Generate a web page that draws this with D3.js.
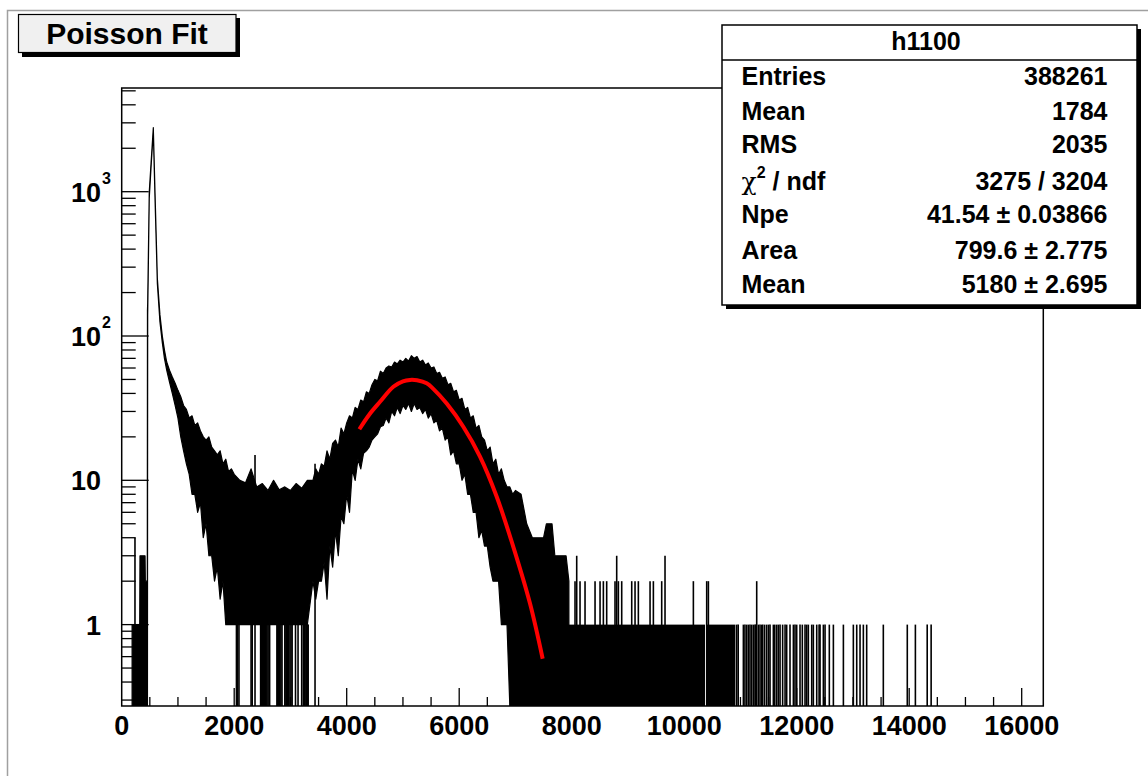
<!DOCTYPE html>
<html>
<head>
<meta charset="utf-8">
<script src="https://d3js.org/d3.v7.min.js"></script>
<style>
body { margin: 0; background: #fff; }
text { font-family: "Liberation Sans", Arial, sans-serif; font-weight: bold; fill: #000; }
</style>
</head>
<body>
<div id="chart"></div>
<script>
// ---- data ----
// main band of the histogram: bin x, upper and lower envelope of the counts (0 = empty bins)
var envX  = [185, 320, 325, 415, 420, 455, 458, 462, 490, 527, 562, 592, 634, 680, 722, 760, 800, 850,
             900, 950, 1000, 1050, 1100, 1150, 1200, 1250, 1300, 1350, 1400, 1450, 1500, 1550, 1600, 1650,
             1700, 1750, 1800, 1850, 1900, 1950, 2000,
             2100, 2200, 2300, 2400, 2500, 2600, 2700, 2800, 2900, 3000, 3100, 3200, 3300,
             3400, 3450, 3500, 3550, 3600, 3650, 3700, 3750, 3800, 3850, 3900, 3950, 4000, 4050, 4100, 4150,
             4200, 4250, 4300, 4350, 4400, 4450, 4500, 4550, 4600, 4650, 4700, 4750, 4800, 4850, 4900, 4950,
             5000, 5050, 5100, 5150, 5200, 5250, 5300, 5350, 5400, 5450, 5500, 5550, 5600, 5650, 5700, 5750,
             5800, 5850, 5900, 5950, 6000, 6050, 6100, 6150, 6200, 6250, 6300, 6350, 6400, 6450, 6500, 6550,
             6600, 6650, 6700, 6750, 6800, 6850, 6900, 6950, 7000, 7100, 7200, 7300,
             7400, 7500, 7550, 7650, 7700, 7900, 7950];
var envHi = [1, 1, 3, 3, 2, 2, 150, 170, 1000, 1700, 2776, 1000, 250, 140, 100, 80, 66, 58,
             52, 47, 42, 38, 33, 31, 27, 28, 24, 25, 22, 20, 19, 20, 17, 16,
             15, 16, 13, 14, 11.5, 12, 11,
             10, 9.6, 12, 9, 9.5, 8.5, 10, 8.6, 9, 8.5, 9.5, 8.8, 10,
             10, 12, 11, 13, 12.5, 16, 14, 18, 19, 17, 23, 21, 25, 28, 27, 32,
             31, 36, 35, 41, 40, 46, 50, 49, 57, 55, 60, 62, 61, 66, 64, 68,
             66, 70, 67, 73, 70, 72, 66, 68, 63, 65, 60, 61, 55, 56, 51, 52,
             46, 47, 41, 42, 36, 37, 31, 32, 27, 28, 23, 24, 20, 19, 16, 17,
             13, 14, 11, 12, 10, 9, 9, 8, 8.5, 8, 5, 4,
             4, 4, 5, 5, 3, 3, 2];
var envLo = [0, 0, 0, 0, 0, 0, 0, 140, 900, 1600, 2600, 900, 230, 125, 90, 70, 58, 48,
             40, 33, 27, 20, 16, 13, 11, 8, 8, 6, 7, 4, 5, 3, 3, 2,
             2.5, 1.5, 2, 1, 1, 1, 1,
             1, 1, 1, 1, 1, 1, 1, 1, 1, 1, 1, 1, 1,
             2, 1.5, 2, 2, 2.7, 1.5, 3.5, 2.5, 4.5, 3, 5.6, 5, 8, 6, 11.8, 10,
             14, 12, 15.4, 16, 17, 19, 20, 21, 23.5, 24, 27, 25, 30, 28, 32, 29,
             33, 31, 34, 30, 34, 31, 32, 29, 31, 27, 29, 25, 26, 22, 23, 19,
             20, 15, 16, 13, 13, 10, 11, 8, 8, 6, 6, 4, 4.5, 3.5, 3.5, 2.5,
             2, 2, 2, 1, 1, 1, 0, 0, 0, 0, 0, 0,
             0, 0, 0, 0, 0, 0, 0];

// stretches of the tail that are filled up to one entry per bin
var blockStart = [6900, 10395];
var blockEnd   = [10370, 10910];
var blockCount = [1, 1];

// single bins drawn as vertical lines (x, count)
var binX = [236, 2370, 3437,
  2040, 2060, 2085, 2300, 2320, 2470, 2480, 2490, 2500, 2510, 2520, 2540, 2560, 2580, 2600, 2620, 2630,
  2760, 2770, 2790, 2810, 2830, 2850, 2900, 2920, 2930, 2950, 2960, 2990, 3010, 3030, 3090, 3135,
  3200, 3230, 3250, 3260, 3280, 3290, 3305, 3315,
  8059, 8089, 8148, 8237, 8415, 8504, 8563, 8622, 8770, 8800, 8830, 8889, 9067, 9126, 9185, 9393,
  9452, 9600, 9659, 10163, 10400, 10430, 11289,
  10933, 10960, 11052, 11080, 11111, 11141, 11170, 11200, 11230, 11259, 11270, 11319, 11348, 11378, 11396,
  11430, 11467, 11500, 11526, 11585, 11610, 11644, 11674, 11704, 11750, 11793, 11822, 11881, 11941, 11970,
  12000, 12059, 12100, 12148, 12178, 12207, 12267, 12296, 12356, 12398, 12415, 12474, 12504, 12580,
  12652, 12830, 13007, 13067, 13126, 13185, 13244,
  13540, 13966, 14110, 14320, 14390];
var binN = [4, 15, 13,
  1, 1, 1, 1, 1, 1, 1, 1, 1, 1, 1, 1, 1, 1, 1, 1, 1,
  1, 1, 1, 1, 1, 1, 1, 1, 1, 1, 1, 1, 1, 1, 1, 1,
  1, 1, 1, 1, 1, 1, 1, 1,
  2, 3, 2, 2, 2, 2, 2, 2, 2, 3, 2, 2, 2, 2, 2, 2,
  2, 2, 3, 2, 2, 2, 2,
  1, 1, 1, 1, 1, 1, 1, 1, 1, 1, 1, 1, 1, 1, 1,
  1, 1, 1, 1, 1, 1, 1, 1, 1, 1, 1, 1, 1, 1, 1,
  1, 1, 1, 1, 1, 1, 1, 1, 1, 1, 1, 1, 1, 1,
  1, 1, 1, 1, 1, 1, 1,
  1, 1, 1, 1, 1];

// fitted Poisson curve
var fitX = [4225, 4400, 4592, 4829, 5000, 5125, 5250, 5422, 5540, 5778, 6073, 6370, 6667, 6962, 7259, 7484];
var fitY = [22.6, 28.5, 35, 44.5, 48.5, 49.6, 49.3, 47, 43, 34, 23.5, 14.6, 7.7, 3.46, 1.4, 0.58];

// axes
var xTicks = [0, 2000, 4000, 6000, 8000, 10000, 12000, 14000, 16000];
var yDecades = [1, 10, 100, 1000];
var yLabels = ["1", "10", "10", "10"];
var yExponents = ["", "", "2", "3"];

// boxes
var titleText = "Poisson Fit";
var statTitle = "h1100";
var statNames = ["Entries", "Mean", "RMS", "chi2", "Npe", "Area", "Mean"];
var statValues = ["388261", "1784", "2035", "3275 / 3204", "41.54 \u00b1 0.03866", "799.6 \u00b1 2.775", "5180 \u00b1 2.695"];

// ---- drawing ----
var W = 1148, H = 776;
var fx0 = 121.7, fx1 = 1043.3, fy0 = 88, fy1 = 706;

var svg = d3.select("#chart").append("svg")
    .attr("width", W)
    .attr("height", H);

svg.append("rect").attr("width", W).attr("height", H).attr("fill", "#fff");

// canvas border (only top and left show)
svg.append("path")
    .attr("d", "M7.5,776 L7.5,10.5 L1148,10.5")
    .attr("fill", "none")
    .attr("stroke", "#a0a0a0")
    .attr("stroke-width", 1.5);

var yMin = 0.2729;
var x = d3.scaleLinear().domain([0, 16384]).range([fx0, fx1]);
var y = d3.scaleLog().domain([yMin, 5231]).range([fy1, fy0]);

svg.append("clipPath").attr("id", "frameclip")
  .append("rect")
    .attr("x", fx0).attr("y", fy0)
    .attr("width", fx1 - fx0).attr("height", fy1 - fy0);

var plot = svg.append("g").attr("clip-path", "url(#frameclip)");

var env = envX.map(function(v, i) { return [v, envHi[i], envLo[i]]; });
var area = d3.area()
    .x(function(d) { return x(d[0]); })
    .y0(function(d) { return y(Math.max(d[2], yMin)); })
    .y1(function(d) { return y(d[1]); });

plot.append("path")
    .datum(env)
    .attr("d", area)
    .attr("fill", "#000")
    .attr("stroke", "#000")
    .attr("stroke-width", 1.2)
    .attr("stroke-linejoin", "round");

plot.selectAll(".block")
  .data(blockStart)
  .enter().append("rect")
    .attr("x", function(d) { return x(d); })
    .attr("width", function(d, i) { return x(blockEnd[i]) - x(d); })
    .attr("y", function(d, i) { return y(blockCount[i]); })
    .attr("height", function(d, i) { return fy1 - y(blockCount[i]); })
    .attr("fill", "#000");

plot.selectAll(".bin")
  .data(binX)
  .enter().append("line")
    .attr("x1", function(d) { return x(d); })
    .attr("x2", function(d) { return x(d); })
    .attr("y1", fy1)
    .attr("y2", function(d, i) { return y(binN[i]); })
    .attr("stroke", "#000")
    .attr("stroke-width", 1.6);

// fit
var fit = fitX.map(function(v, i) { return [v, fitY[i]]; });
plot.append("path")
    .datum(fit)
    .attr("d", d3.line()
        .x(function(d) { return x(d[0]); })
        .y(function(d) { return y(d[1]); })
        .curve(d3.curveCatmullRom))
    .attr("fill", "none")
    .attr("stroke", "#ff0000")
    .attr("stroke-width", 4);

// frame
svg.append("rect")
    .attr("x", fx0).attr("y", fy0)
    .attr("width", fx1 - fx0).attr("height", fy1 - fy0)
    .attr("fill", "none")
    .attr("stroke", "#000")
    .attr("stroke-width", 1.5);

// x ticks
var xMinor = d3.range(500, 16001, 500);
svg.selectAll(".xt")
  .data(xMinor)
  .enter().append("line")
    .attr("x1", function(d) { return x(d); })
    .attr("x2", function(d) { return x(d); })
    .attr("y1", fy1)
    .attr("y2", function(d) { return d % 2000 === 0 ? fy1 - 18 : fy1 - 9; })
    .attr("stroke", "#000")
    .attr("stroke-width", 1.3);

svg.selectAll(".xl")
  .data(xTicks)
  .enter().append("text")
    .attr("x", function(d) { return x(d); })
    .attr("y", 735)
    .attr("text-anchor", "middle")
    .style("font-size", "27px")
    .text(function(d) { return d; });

// y ticks
var yMinor = [];
[0.1, 1, 10, 100, 1000].forEach(function(dec) {
  for (var k = 2; k <= 9; k++) {
    var v = k * dec;
    if (v > yMin && v < 5231) yMinor.push(v);
  }
});
svg.selectAll(".ytm")
  .data(yMinor)
  .enter().append("line")
    .attr("x1", fx0).attr("x2", fx0 + 14)
    .attr("y1", function(d) { return y(d); })
    .attr("y2", function(d) { return y(d); })
    .attr("stroke", "#000")
    .attr("stroke-width", 1.3);
svg.selectAll(".ytM")
  .data(yDecades)
  .enter().append("line")
    .attr("x1", fx0).attr("x2", fx0 + 27)
    .attr("y1", function(d) { return y(d); })
    .attr("y2", function(d) { return y(d); })
    .attr("stroke", "#000")
    .attr("stroke-width", 1.3);

svg.selectAll(".yl")
  .data(yDecades)
  .enter().append("text")
    .attr("x", 101)
    .attr("y", function(d) { return y(d) + 10; })
    .attr("text-anchor", "end")
    .style("font-size", "27px")
    .text(function(d, i) { return yLabels[i]; });
svg.selectAll(".ye")
  .data(yDecades.slice(2))
  .enter().append("text")
    .attr("x", 102)
    .attr("y", function(d) { return y(d) - 8; })
    .style("font-size", "16px")
    .text(function(d, i) { return yExponents[i + 2]; });

// title box
svg.append("rect").attr("x", 22).attr("y", 18).attr("width", 218).attr("height", 39).attr("fill", "#000");
svg.append("rect").attr("x", 18.5).attr("y", 14.5).attr("width", 217.5).attr("height", 38)
    .attr("fill", "#f0f0f0").attr("stroke", "#000").attr("stroke-width", 1.2);
svg.append("text")
    .attr("x", 127).attr("y", 43.5)
    .attr("text-anchor", "middle")
    .style("font-size", "30px")
    .text(titleText);

// stats box
var sx = 722, sy = 25, sw = 415, sh = 280;
svg.append("rect").attr("x", sx + 4).attr("y", sy + 4).attr("width", sw).attr("height", sh).attr("fill", "#000");
svg.append("rect").attr("x", sx).attr("y", sy).attr("width", sw).attr("height", sh)
    .attr("fill", "#fff").attr("stroke", "#000").attr("stroke-width", 1.5);
svg.append("line").attr("x1", sx).attr("x2", sx + sw).attr("y1", 60).attr("y2", 60)
    .attr("stroke", "#000").attr("stroke-width", 1.5);
svg.append("text")
    .attr("x", 926).attr("y", 50)
    .attr("text-anchor", "middle")
    .style("font-size", "25px")
    .text(statTitle);

var rowY = [85, 120, 153, 190, 223, 259, 293];
statNames.forEach(function(n, i) {
  var t = svg.append("text")
      .attr("x", 741.5).attr("y", rowY[i])
      .style("font-size", "25px");
  if (n === "chi2") {
    t.append("tspan").style("font-weight", "normal").style("font-family", "DejaVu Serif, serif").text("\u03c7");
    t.append("tspan").attr("dy", -12).style("font-size", "16px").text("2");
    t.append("tspan").attr("dy", 12).text(" / ndf");
  } else {
    t.text(n);
  }
  svg.append("text")
      .attr("x", 1107.5).attr("y", rowY[i])
      .attr("text-anchor", "end")
      .style("font-size", "25px")
      .text(statValues[i]);
});
</script>
</body>
</html>
